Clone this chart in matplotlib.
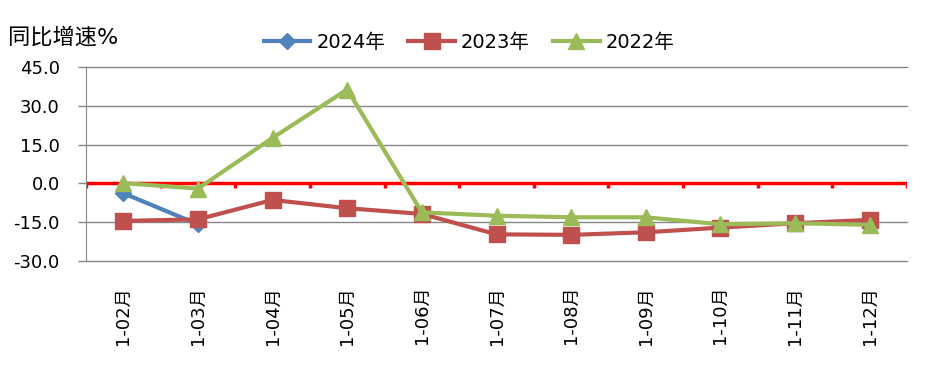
import numpy as np
import matplotlib
matplotlib.use('Agg')
import matplotlib.pyplot as plt

plt.rcParams['font.family'] = ['DejaVu Sans', 'Noto Sans CJK SC']

# categories and series
months = ["1-02月", "1-03月", "1-04月", "1-05月", "1-06月", "1-07月",
          "1-08月", "1-09月", "1-10月", "1-11月", "1-12月"]
y2024 = [-3.8, -15.8]
y2023 = [-14.5, -13.9, -6.4, -9.6, -11.8, -19.7, -19.9, -18.9, -17.1, -15.4, -14.1]
y2022 = [0.1, -2.0, 17.6, 36.3, -11.2, -12.5, -13.1, -13.1, -15.8, -15.4, -16.0]
yticks = [45, 30, 15, 0, -15, -30]

fig = plt.figure(figsize=(9.27, 3.7), dpi=100)
ax = fig.add_axes([0.0928, 0.2946, 0.8856, 0.5243])

x = np.arange(len(months))
ax.plot(x[:len(y2024)], y2024, color='#4F81BD', lw=3, marker='D', ms=8, label='2024年', zorder=3)
ax.plot(x, y2023, color='#C0504D', lw=3, marker='s', ms=11, label='2023年', zorder=4)
ax.plot(x, y2022, color='#9BBB59', lw=3, marker='^', ms=11, label='2022年', zorder=5)

# horizontal gridlines (drawn unclipped so the edge ones show fully)
for v in yticks:
    if v != 0:
        ax.axhline(v, color='#868686', lw=1, zorder=1, clip_on=False)

# red zero axis with ticks at category boundaries
ax.axhline(0, color='#FF0000', lw=2.5, zorder=2)
bounds = np.arange(len(months) + 1) - 0.5
ax.vlines(bounds, -1.7, 0, color='#FF0000', lw=2.5, zorder=2)

ax.set_xlim(-0.5, len(months) - 0.5)
ax.set_ylim(-30, 45)
ax.set_yticks(yticks)
ax.set_yticklabels([f"{v:.1f}" for v in yticks], fontsize=13)
ax.set_xticks(x)
ax.set_xticklabels(months, rotation=90, fontsize=13)
ax.tick_params(axis='x', length=0, pad=18)
ax.tick_params(axis='y', length=6, color='#868686', width=1, pad=13)

for s in ['top', 'right', 'bottom']:
    ax.spines[s].set_visible(False)
ax.spines['left'].set_color('#868686')

fig.text(0.009, 0.9, '同比增速%', fontsize=16, ha='left', va='center')
fig.legend(loc='center', bbox_to_anchor=(0.506, 0.886), ncol=3, frameon=False,
           fontsize=14, handlelength=2.4, columnspacing=1.2, handletextpad=0.3)

plt.savefig('out.png', dpi=100)
